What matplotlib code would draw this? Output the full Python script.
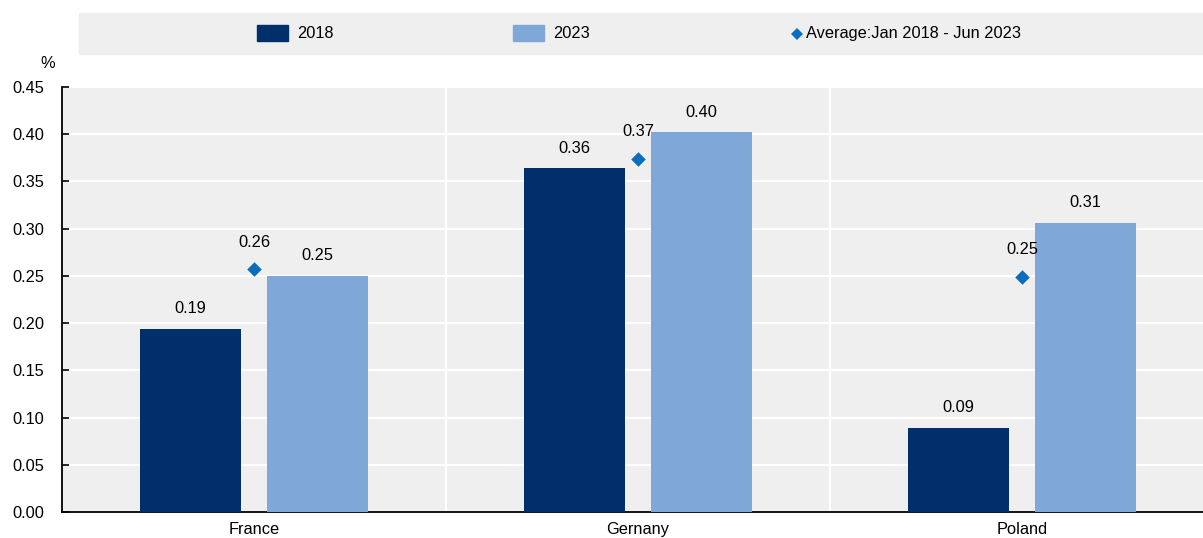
import matplotlib
matplotlib.use("Agg")
import matplotlib.pyplot as plt
from matplotlib.patches import Rectangle
from matplotlib.lines import Line2D
import numpy as np

plt.rcParams['font.family'] = ['Liberation Sans', 'DejaVu Sans']

countries = ["France", "Gernany", "Poland"]
series_names = ["2018", "2023", "Average:Jan 2018 - Jun 2023"]
vals_2018 = [0.194, 0.364, 0.089]
vals_2023 = [0.250, 0.402, 0.306]
vals_avg = [0.257, 0.374, 0.249]
labels_2018 = ["0.19", "0.36", "0.09"]
labels_2023 = ["0.25", "0.40", "0.31"]
labels_avg = ["0.26", "0.37", "0.25"]
yticks = [0.00, 0.05, 0.10, 0.15, 0.20, 0.25, 0.30, 0.35, 0.40, 0.45]

c_dark = "#002F6C"
c_light = "#7FA7D8"
c_avg = "#0A6EBD"
c_bg = "#EFEFEF"
fs = 11.8

W, H = 1203, 538
fig = plt.figure(figsize=(W / 100, H / 100), dpi=100)
ax = fig.add_axes([62 / W, 1 - 512 / H, 1152 / W, 425 / H])
ax.set_facecolor(c_bg)

x = np.arange(len(countries))
bw = 0.263
off = 0.165
ax.bar(x - off, vals_2018, bw, color=c_dark, zorder=3)
ax.bar(x + off, vals_2023, bw, color=c_light, zorder=3)
ax.scatter(x, vals_avg, marker="D", s=55, color=c_avg, zorder=4, linewidths=0)

for i in range(len(countries)):
    ax.annotate(labels_2018[i], (x[i] - off, vals_2018[i]), xytext=(0, 9),
                textcoords="offset points", ha="center", va="bottom", fontsize=fs)
    ax.annotate(labels_2023[i], (x[i] + off, vals_2023[i]), xytext=(0, 9),
                textcoords="offset points", ha="center", va="bottom", fontsize=fs)
    ax.annotate(labels_avg[i], (x[i], vals_avg[i]), xytext=(0, 14),
                textcoords="offset points", ha="center", va="bottom", fontsize=fs)

ax.set_xlim(-0.5, len(countries) - 0.5)
ax.set_ylim(0, 0.45)
ax.set_yticks(yticks)
ax.set_yticklabels([f"{t:.2f}" for t in yticks], fontsize=fs)
ax.yaxis.grid(True, color="white", linewidth=1.6, zorder=1)
ax.set_axisbelow(True)
for b in x[:-1] + 0.5:
    ax.axvline(b, color="white", linewidth=1.6, zorder=1)
ax.set_xticks(x)
ax.set_xticklabels(countries, fontsize=fs)
ax.tick_params(axis="x", length=0, pad=7.5)
ax.tick_params(axis="y", direction="in", length=5, width=1.2, pad=13)
for s in ["top", "right"]:
    ax.spines[s].set_visible(False)
ax.spines["left"].set_linewidth(1.3)
ax.spines["bottom"].set_linewidth(1.3)
ax.text(-0.012, 1.055, "%", transform=ax.transAxes, fontsize=fs,
        ha="center", va="center")

# legend strip
fig.patches.append(Rectangle((79 / W, 1 - 54 / H), (W - 79) / W, 41 / H,
                             transform=fig.transFigure, color=c_bg, zorder=0))
ly = 1 - 33.5 / H
fig.patches.append(Rectangle((257 / W, 1 - 41 / H), 31 / W, 16 / H,
                             transform=fig.transFigure, color=c_dark))
fig.text(297 / W, ly, series_names[0], fontsize=fs, va="center", ha="left")
fig.patches.append(Rectangle((513 / W, 1 - 41 / H), 31 / W, 16 / H,
                             transform=fig.transFigure, color=c_light))
fig.text(553 / W, ly, series_names[1], fontsize=fs, va="center", ha="left")
fig.lines.append(Line2D([797 / W], [ly], marker="D", markersize=6.5, color=c_avg,
                        markeredgewidth=0, transform=fig.transFigure))
fig.text(806 / W, ly, series_names[2], fontsize=fs, va="center", ha="left")

fig.savefig("out.png", dpi=100)
